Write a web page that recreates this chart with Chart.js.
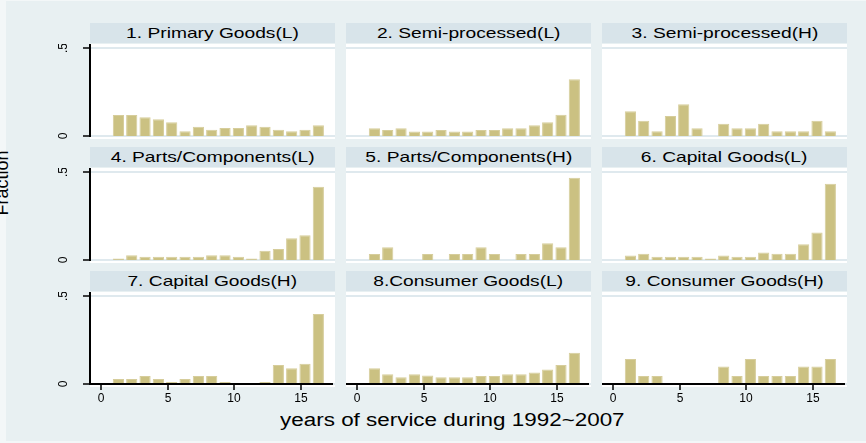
<!DOCTYPE html>
<html>
<head>
<meta charset="utf-8">
<script src="https://cdn.jsdelivr.net/npm/chart.js@4.4.1/dist/chart.umd.min.js"></script>
<style>
  body { margin: 0; width: 866px; height: 443px; background: #f3f7f8; overflow: hidden;
         font-family: "Liberation Sans", Arial, sans-serif; color: #000; }
  .graph_region { position: absolute; left: 6px; top: 1px; width: 860px; height: 440px; background: #e8f0f2; }
  .strip { position: absolute; height: 20px; background: #d8e4ea; text-align: center;
           font-size: 15px; line-height: 19px; white-space: nowrap; }
  .strip span, .x_title span { display: inline-block; transform: scaleX(1.28); }
  .plot_bg { position: absolute; background: #fff; }
  .panel { position: absolute; }
  .panel canvas { display: block; }
  .x_title { position: absolute; left: 0; width: 905px; top: 411px; text-align: center;
             font-size: 18px; line-height: 18px; white-space: nowrap; }
  .x_title span { transform: scaleX(1.245); }
  .y_title { position: absolute; left: -48px; top: 174px; width: 100px; height: 18px;
             font-size: 18px; line-height: 18px; text-align: center; transform: rotate(-90deg); }
</style>
</head>
<body>
<div class="graph_region"></div>
<div class="y_title">Fraction</div>
<div class="x_title"><span>years of service during 1992~2007</span></div>

<script>
// data
const years = [1, 2, 3, 4, 5, 6, 7, 8, 9, 10, 11, 12, 13, 14, 15, 16];

const primaryL   = [0.119, 0.119, 0.106, 0.095, 0.078, 0.027, 0.053, 0.036, 0.045, 0.045, 0.061, 0.053, 0.036, 0.027, 0.036, 0.061];
const semiL      = [0.044, 0.034, 0.044, 0.025, 0.025, 0.034, 0.025, 0.025, 0.034, 0.034, 0.044, 0.044, 0.061, 0.078, 0.121, 0.322];
const semiH      = [0.140, 0.087, 0.027, 0.114, 0.180, 0.044, 0, 0.070, 0.044, 0.044, 0.070, 0.027, 0.027, 0.027, 0.087, 0.027];
const partsL     = [0.009, 0.027, 0.019, 0.019, 0.019, 0.019, 0.019, 0.027, 0.027, 0.019, 0.009, 0.053, 0.063, 0.123, 0.140, 0.417];
const partsH     = [0.034, 0.072, 0, 0, 0.034, 0, 0.034, 0.034, 0.072, 0.034, 0, 0.034, 0.034, 0.095, 0.072, 0.468];
const capitalL   = [0.026, 0.036, 0.019, 0.019, 0.019, 0.019, 0.009, 0.026, 0.019, 0.019, 0.043, 0.036, 0.036, 0.089, 0.157, 0.434];
const capitalH   = [0.029, 0.029, 0.046, 0.029, 0.012, 0.029, 0.046, 0.046, 0.012, 0, 0, 0.012, 0.108, 0.090, 0.115, 0.398];
const consumerL  = [0.090, 0.056, 0.038, 0.056, 0.048, 0.038, 0.038, 0.038, 0.046, 0.046, 0.056, 0.056, 0.065, 0.083, 0.108, 0.177];
const consumerH  = [0.142, 0.046, 0.046, 0, 0, 0, 0, 0.100, 0.046, 0.142, 0.046, 0.046, 0.046, 0.100, 0.100, 0.142];

const panelTitles = ['1. Primary Goods(L)', '2. Semi-processed(L)', '3. Semi-processed(H)',
                     '4. Parts/Components(L)', '5. Parts/Components(H)', '6. Capital Goods(L)',
                     '7. Capital Goods(H)', '8.Consumer Goods(L)', '9. Consumer Goods(H)'];
const panelData = [primaryL, semiL, semiH, partsL, partsH, capitalL, capitalH, consumerL, consumerH];

const xTicks = [0, 5, 10, 15];
const xTickLabels = ['0', '5', '10', '15'];
const yTicks = [0, 0.5];
const yTickLabels = ['0', '.5'];

// layout
const colLeft = [90, 346, 602];
const stripTop = [23, 147, 271];
const plotW = 245;
const plotH = 92;
const binShift = 0.3;
const barColor = '#cbc182';
const barEdge = '#d6cd9b';
const gridColor = '#dfe9ee';
const font12 = '12px "Liberation Sans", Arial, sans-serif';

// stata style axes, drawn from the chart scales
function stataAxes(showY, showX) {
  return {
    id: 'stataAxes',
    beforeDatasetsDraw(chart) {
      let ctx = chart.ctx;
      let area = chart.chartArea;
      let ys = chart.scales.y;
      ctx.save();
      ctx.strokeStyle = gridColor;
      ctx.lineWidth = 2;
      yTicks.forEach(v => {
        let py = Math.round(ys.getPixelForValue(v));
        ctx.beginPath();
        ctx.moveTo(area.left, py);
        ctx.lineTo(area.right, py);
        ctx.stroke();
      });
      ctx.restore();
    },
    afterDatasetsDraw(chart) {
      let ctx = chart.ctx;
      let area = chart.chartArea;
      let xs = chart.scales.x;
      let ys = chart.scales.y;
      ctx.save();
      ctx.strokeStyle = '#000';
      ctx.fillStyle = '#000';
      ctx.font = font12;
      ctx.textAlign = 'center';
      ctx.textBaseline = 'middle';
      if (showY) {
        ctx.lineWidth = 2;
        ctx.beginPath();
        ctx.moveTo(area.left, area.top);
        ctx.lineTo(area.left, area.bottom + 1);
        ctx.stroke();
        ctx.lineWidth = 1.5;
        yTicks.forEach((v, k) => {
          let py = Math.round(ys.getPixelForValue(v));
          ctx.beginPath();
          ctx.moveTo(area.left - 7, py);
          ctx.lineTo(area.left, py);
          ctx.stroke();
          ctx.save();
          ctx.translate(area.left - 26, py);
          ctx.rotate(-Math.PI / 2);
          ctx.fillText(yTickLabels[k], 0, 0);
          ctx.restore();
        });
      }
      if (showX) {
        let py = Math.round(ys.getPixelForValue(0));
        ctx.lineWidth = 2;
        ctx.beginPath();
        ctx.moveTo(area.left, py);
        ctx.lineTo(area.right - 2, py);
        ctx.stroke();
        ctx.lineWidth = 1.5;
        xTicks.forEach((v, k) => {
          let px = Math.round(xs.getPixelForValue(v));
          ctx.beginPath();
          ctx.moveTo(px, py);
          ctx.lineTo(px, py + 6);
          ctx.stroke();
          ctx.fillText(xTickLabels[k], px, py + 15);
        });
      }
      ctx.restore();
    }
  };
}

panelData.forEach((vals, i) => {
  let r = Math.floor(i / 3);
  let c = i % 3;
  let left = colLeft[c];
  let top = stripTop[r] + 21;
  let padL = c === 0 ? 40 : 0;
  let padB = r === 2 ? 30 : 6;

  let strip = document.createElement('div');
  strip.className = 'strip';
  strip.style.left = left + 'px';
  strip.style.top = stripTop[r] + 'px';
  strip.style.width = plotW + 'px';
  strip.innerHTML = '<span>' + panelTitles[i] + '</span>';
  document.body.append(strip);

  let bg = document.createElement('div');
  bg.className = 'plot_bg';
  bg.style.left = left + 'px';
  bg.style.top = top + 'px';
  bg.style.width = plotW + 'px';
  bg.style.height = (plotH + 3) + 'px';
  document.body.append(bg);

  let box = document.createElement('div');
  box.className = 'panel';
  box.style.left = (left - padL) + 'px';
  box.style.top = top + 'px';
  let canvas = document.createElement('canvas');
  canvas.width = plotW + padL;
  canvas.height = plotH + padB;
  box.append(canvas);
  document.body.append(box);

  new Chart(canvas.getContext('2d'), {
    type: 'bar',
    data: {
      datasets: [{
        data: years.map((yr, k) => ({ x: yr + binShift, y: vals[k] })),
        backgroundColor: barColor,
        borderColor: barEdge,
        borderWidth: 1,
        barPercentage: 0.84,
        categoryPercentage: 1
      }]
    },
    options: {
      responsive: false,
      animation: false,
      devicePixelRatio: 1,
      layout: { padding: { left: padL, right: 0, top: 0, bottom: padB } },
      plugins: { legend: { display: false }, tooltip: { enabled: false } },
      scales: {
        x: { type: 'linear', min: -0.83, max: 17.55, offset: false, display: false },
        y: { min: 0, max: 0.523, display: false }
      }
    },
    plugins: [stataAxes(c === 0, r === 2)]
  });
});
</script>
</body>
</html>
